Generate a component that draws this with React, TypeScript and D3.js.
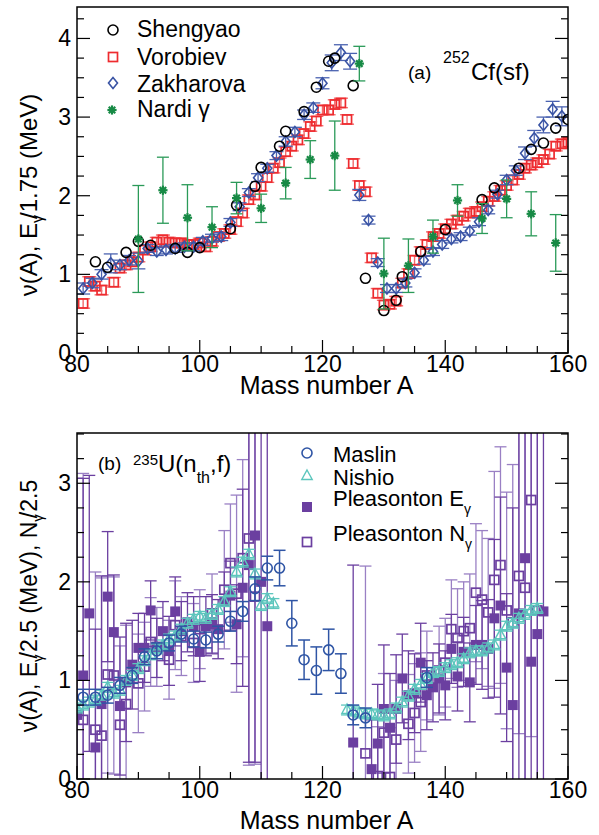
import React from "react";
import * as d3 from "d3";

const W = 599;
const H = 835;
const FONT = "'Liberation Sans', Arial, Helvetica, sans-serif";

// ---------- Panel (a): 252Cf(sf) ----------
const shengyaoA = [83, 85, 88, 90, 92, 96, 98, 100, 105, 106, 109, 110, 113, 114, 117, 119, 121, 122, 125, 127, 130, 132, 133, 136, 140, 146, 148, 152, 154, 156, 158, 160];
const shengyaoV = [1.16, 1.09, 1.28, 1.42, 1.37, 1.33, 1.28, 1.34, 1.58, 1.88, 2.12, 2.36, 2.63, 2.82, 3.07, 3.38, 3.71, 3.75, 3.40, 0.95, 0.54, 0.67, 0.97, 1.29, 1.57, 1.95, 2.10, 2.35, 2.59, 2.67, 2.86, 2.97];

const vorobievA = [81, 82, 83, 84, 86, 87, 88, 89, 90, 91, 92, 93, 94, 95, 96, 97, 98, 99, 100, 101, 102, 103, 104, 105, 106, 107, 108, 109, 110, 111, 112, 113, 114, 115, 116, 117, 118, 119, 120, 121, 122, 123, 124, 125, 126, 127, 128, 129, 130, 131, 132, 133, 134, 135, 136, 137, 138, 139, 140, 141, 142, 143, 144, 145, 146, 147, 148, 149, 150, 151, 152, 153, 154, 155, 156, 157, 158, 159, 160];
const vorobievV = [0.63, 0.91, 0.85, 0.80, 0.90, 1.08, 1.12, 1.16, 1.22, 1.31, 1.35, 1.41, 1.44, 1.41, 1.40, 1.40, 1.38, 1.38, 1.40, 1.35, 1.42, 1.48, 1.52, 1.57, 1.67, 1.78, 1.95, 2.01, 2.12, 2.23, 2.35, 2.42, 2.56, 2.63, 2.71, 2.79, 2.88, 2.95, 3.09, 3.09, 3.16, 3.18, 2.97, 2.41, 2.13, 2.05, 1.21, 0.76, 0.61, 0.62, 0.66, 0.89, 1.01, 1.18, 1.29, 1.38, 1.48, 1.52, 1.58, 1.64, 1.69, 1.74, 1.78, 1.80, 1.86, 1.93, 1.99, 2.07, 2.13, 2.20, 2.27, 2.35, 2.39, 2.42, 2.46, 2.53, 2.63, 2.66, 2.68];

const zakharovaA = [81, 82.5, 84, 85.5, 87, 88.5, 90, 91.5, 93, 94.5, 96, 97.5, 99, 100.5, 102, 103.5, 105, 106.5, 108, 109.5, 111, 112.5, 114, 115.5, 117, 118.5, 120, 121.5, 123, 124.5, 126, 127.5, 129, 130.5, 132, 133.5, 135, 136.5, 138, 139.5, 141, 142.5, 144, 145.5, 147, 148.5, 150, 151.5, 153, 154.5, 156, 157.5, 159];
const zakharovaV = [0.82, 0.89, 1.00, 1.14, 1.12, 1.18, 1.17, 1.33, 1.29, 1.31, 1.33, 1.35, 1.35, 1.42, 1.46, 1.48, 1.66, 1.86, 2.04, 2.23, 2.35, 2.51, 2.69, 2.81, 3.03, 3.12, 3.43, 3.69, 3.82, 3.71, 2.01, 1.69, 1.15, 0.82, 0.82, 0.89, 1.02, 1.18, 1.29, 1.38, 1.45, 1.48, 1.55, 1.67, 1.82, 2.02, 2.20, 2.32, 2.54, 2.73, 2.90, 3.10, 3.01];
const zakharovaE = [0.07, 0.06, 0.06, 0.12, 0.06, 0.06, 0.1, 0.05, 0.05, 0.05, 0.05, 0.05, 0.05, 0.05, 0.05, 0.05, 0.05, 0.05, 0.05, 0.05, 0.05, 0.05, 0.06, 0.06, 0.06, 0.06, 0.07, 0.1, 0.1, 0.1, 0.07, 0.05, 0.05, 0.05, 0.05, 0.05, 0.05, 0.05, 0.05, 0.05, 0.05, 0.05, 0.05, 0.05, 0.05, 0.05, 0.06, 0.06, 0.08, 0.1, 0.1, 0.1, 0.12];

const nardiA = [90, 94, 98, 102, 106, 110, 114, 118, 122, 126, 130, 134, 138, 142, 146, 150, 154, 158];
const nardiV = [1.45, 2.07, 1.72, 1.60, 1.97, 1.84, 2.16, 2.46, 2.51, 3.68, 1.01, 1.11, 1.48, 1.94, 1.71, 1.96, 1.77, 1.40];
const nardiE = [0.68, 0.42, 0.42, 0.26, 0.2, 0.18, 0.2, 0.24, 0.44, 0.22, 0.45, 0.34, 0.21, 0.2, 0.19, 0.24, 0.28, 0.36];

// ---------- Panel (b): 235U(nth,f) ----------
const maslinA = [81, 83, 85, 87, 89, 91, 93, 95, 97, 99, 101, 103, 105, 107, 109, 111, 113, 115, 117, 119, 121, 123, 125, 127, 137];
const maslinV = [0.83, 0.83, 0.85, 0.95, 1.05, 1.24, 1.30, 1.38, 1.47, 1.42, 1.41, 1.47, 1.60, 1.70, 1.93, 2.14, 2.14, 1.58, 1.21, 1.10, 1.31, 1.07, 0.65, 0.62, 1.03];
const maslinE = [0.08, 0.08, 0.08, 0.08, 0.08, 0.08, 0.08, 0.08, 0.08, 0.08, 0.08, 0.08, 0.1, 0.1, 0.12, 0.12, 0.18, 0.23, 0.2, 0.24, 0.21, 0.2, 0.1, 0.1, 0.1];

const nishioA = [80, 81, 82, 83, 84, 85, 86, 87, 88, 89, 90, 91, 92, 93, 94, 95, 96, 97, 98, 99, 100, 101, 102, 103, 104, 105, 106, 107, 108, 109, 110, 111, 112, 124, 125, 126, 127, 128, 129, 130, 131, 132, 133, 134, 135, 136, 137, 138, 139, 140, 141, 142, 143, 144, 145, 146, 147, 148, 149, 150, 151, 152, 153, 154, 155];
const nishioV = [0.72, 0.75, 0.78, 0.80, 0.85, 0.93, 0.87, 0.90, 1.00, 1.05, 1.12, 1.20, 1.26, 1.32, 1.36, 1.42, 1.45, 1.52, 1.58, 1.62, 1.65, 1.63, 1.67, 1.72, 1.80, 1.90, 2.10, 2.20, 2.28, 2.08, 1.76, 1.83, 1.78, 0.70, 0.69, 0.67, 0.66, 0.66, 0.65, 0.64, 0.66, 0.72, 0.78, 0.84, 0.91, 0.96, 1.02, 1.08, 1.09, 1.13, 1.16, 1.18, 1.22, 1.28, 1.30, 1.30, 1.33, 1.36, 1.46, 1.55, 1.58, 1.63, 1.67, 1.71, 1.73];

const pleasEA = [80, 81, 82, 83, 84, 85, 86, 87, 88, 89, 90, 91, 92, 93, 94, 95, 96, 97, 98, 99, 100, 101, 102, 103, 104, 105, 106, 107, 108, 109, 110, 111, 125, 128, 129, 130, 131, 132, 133, 134, 135, 136, 137, 138, 139, 140, 141, 142, 143, 144, 145, 146, 147, 148, 149, 150, 151, 152, 153, 154, 155, 156];
const pleasEV = [0.65, 1.05, 1.68, 0.32, 0.76, 1.85, 1.49, 0.74, 0.98, 1.16, 1.33, 1.33, 1.71, 1.33, 1.50, 1.30, 1.70, 1.50, 1.59, 1.55, 1.29, 1.55, 1.57, 1.52, 1.80, 1.86, 1.57, 1.94, 2.17, 2.47, 2.00, 1.55, 0.37, 0.10, 0.36, 0.71, 0.52, 0.71, 1.02, 0.85, 0.87, 1.18, 0.85, 0.93, 1.02, 0.95, 1.32, 1.04, 1.29, 0.98, 1.36, 1.36, 1.32, 1.63, 1.76, 1.13, 0.75, 1.68, 2.24, 1.19, 1.47, 1.70];
const pleasEE = [2.4, 2.0, 1.4, 1.2, 1.3, 0.66, 0.58, 0.7, 0.6, 0.45, 0.35, 0.35, 0.3, 0.3, 0.3, 0.35, 0.35, 0.3, 0.3, 0.3, 0.3, 0.3, 0.3, 0.3, 0.3, 0.35, 0.4, 1.0, 2.0, 2.3, 2.4, 2.0, 1.8, 0.5, 0.6, 0.65, 0.55, 0.55, 0.45, 0.45, 0.4, 0.4, 0.35, 0.35, 0.35, 0.35, 0.35, 0.35, 0.35, 0.4, 0.4, 0.45, 0.5, 0.8, 1.1, 0.75, 2.0, 2.0, 2.4, 2.4, 2.5, 2.5];

const pleasNA = [81, 83, 84, 85, 86, 87, 88, 90, 91, 92, 93, 95, 96, 97, 99, 100, 102, 104, 105, 106, 107, 108, 109, 127, 129, 130, 131, 132, 134, 135, 136, 137, 139, 140, 141, 142, 143, 144, 145, 146, 147, 148, 149, 150, 151, 152, 153, 154, 155];
const pleasNV = [0.60, 0.50, 0.44, 1.06, 1.05, 0.55, 0.76, 0.97, 1.14, 1.39, 1.34, 1.21, 1.56, 1.45, 1.38, 1.52, 1.68, 1.92, 2.19, 1.88, 2.24, 2.44, 1.85, 0.26, 0.03, 0.47, 0.02, 0.40, 0.56, 0.67, 0.78, 1.05, 1.10, 1.18, 1.52, 1.43, 1.50, 1.53, 1.89, 1.82, 1.69, 2.02, 2.17, 1.71, 1.59, 2.06, 1.94, 2.83, 1.71];
const pleasNE = [2.5, 1.6, 1.6, 1.0, 1.0, 0.8, 0.8, 0.5, 0.45, 0.45, 0.4, 0.4, 0.45, 0.4, 0.4, 0.4, 0.4, 0.6, 0.6, 1.0, 1.0, 2.3, 1.7, 1.9, 0.5, 0.6, 0.5, 0.6, 0.5, 0.5, 0.5, 0.45, 0.45, 0.45, 0.5, 0.5, 0.5, 0.55, 0.7, 0.7, 0.75, 1.1, 1.2, 1.2, 1.6, 1.6, 2.2, 2.4, 2.5];

const xTickLabels = [80, 100, 120, 140, 160];
const yTickLabelsA = [0, 1, 2, 3, 4];
const yTickLabelsB = [0, 1, 2, 3];

// ---------- layout ----------
const X0 = 77, X1 = 568;
const A_TOP = 7, A_BOT = 353;
const B_TOP = 433, B_BOT = 779;

const xS = d3.scaleLinear().domain([80, 160]).range([X0, X1]);
const yAS = d3.scaleLinear().domain([0, 4.4]).range([A_BOT, A_TOP]);
const yBS = d3.scaleLinear().domain([0, 3.51]).range([B_BOT, B_TOP]);

const RED = "#ee2b2f";
const BLUE = "#3953a4";
const GREEN = "#178a45";
const MASLIN = "#2f55a5";
const NISHIO = "#5cc6bd";
const PURPLE = "#6b3fa0";
const PURPLE_L = "#9a80c4";

type Sc = d3.ScaleLinear<number, number>;

function ErrBar({ x, v, e, y, color, cap, sw = 1.3, op = 1 }: { x: number; v: number; e: number; y: Sc; color: string; cap: number; sw?: number; op?: number }) {
  const px = xS(x);
  const y1 = y(v - e), y2 = y(v + e);
  return (
    <g stroke={color} strokeWidth={sw} opacity={op} fill="none">
      <line x1={px} x2={px} y1={y1} y2={y2} />
      <line x1={px - cap} x2={px + cap} y1={y1} y2={y1} />
      <line x1={px - cap} x2={px + cap} y1={y2} y2={y2} />
    </g>
  );
}

function Marker({ kind, cx, cy, color }: { kind: string; cx: number; cy: number; color: string }) {
  switch (kind) {
    case "circle":
      return <circle cx={cx} cy={cy} r={5} fill="none" stroke={color} strokeWidth={1.6} />;
    case "osquare":
      return <rect x={cx - 4.5} y={cy - 4.5} width={9} height={9} fill="none" stroke={color} strokeWidth={1.7} />;
    case "fsquare":
      return <rect x={cx - 5} y={cy - 5} width={10} height={10} fill={color} />;
    case "diamond":
      return <path d={`M${cx},${cy - 5.5}L${cx + 4.5},${cy}L${cx},${cy + 5.5}L${cx - 4.5},${cy}Z`} fill="none" stroke={color} strokeWidth={1.6} />;
    case "triangle":
      return <path d={`M${cx},${cy - 6}L${cx + 5.2},${cy + 3.5}L${cx - 5.2},${cy + 3.5}Z`} fill="none" stroke={color} strokeWidth={1.4} />;
    case "star": {
      const r = 4.6;
      const angs = [0, 45, 90, 135];
      return (
        <g stroke={color} strokeWidth={2.2} fill={color}>
          {angs.map((a) => {
            const t = (a * Math.PI) / 180;
            return <line key={a} x1={cx - r * Math.cos(t)} y1={cy - r * Math.sin(t)} x2={cx + r * Math.cos(t)} y2={cy + r * Math.sin(t)} />;
          })}
          <circle cx={cx} cy={cy} r={2.6} stroke="none" />
        </g>
      );
    }
  }
  return null;
}

function Series({ xs, vs, es, y, kind, color, ecolor, cap, esw, eop }: { xs: number[]; vs: number[]; es?: number[]; y: Sc; kind: string; color: string; ecolor?: string; cap?: number; esw?: number; eop?: number }) {
  return (
    <g>
      {es && xs.map((x, i) => <ErrBar key={"e" + i} x={x} v={vs[i]} e={es[i]} y={y} color={ecolor || color} cap={cap ?? 5} sw={esw} op={eop} />)}
      {xs.map((x, i) => <Marker key={"m" + i} kind={kind} cx={xS(x)} cy={y(vs[i])} color={color} />)}
    </g>
  );
}

function Axes({ y, top, bot, yMax, yLabels, titleDy }: { y: Sc; top: number; bot: number; yMax: number; yLabels: number[]; titleDy: number }) {
  const xt = d3.range(80, 160.001, 5);
  const yt = d3.range(0, yMax + 0.001, 0.25);
  return (
    <g>
      <rect x={X0} y={top} width={X1 - X0} height={bot - top} fill="none" stroke="#000" strokeWidth={1.5} />
      {xt.map((t) => {
        const major = t % 20 === 0;
        return <line key={"x" + t} x1={xS(t)} x2={xS(t)} y1={bot} y2={bot - (major ? 13 : 7)} stroke="#000" strokeWidth={1.2} />;
      })}
      {yt.map((t) => {
        const major = Math.abs(t - Math.round(t)) < 1e-6;
        const len = major ? 13 : 7;
        return (
          <g key={"y" + t} stroke="#000" strokeWidth={1.2}>
            <line x1={X0} x2={X0 + len} y1={y(t)} y2={y(t)} />
            <line x1={X1} x2={X1 - len} y1={y(t)} y2={y(t)} />
          </g>
        );
      })}
      {xTickLabels.map((t) => (
        <text key={"xl" + t} x={xS(t)} y={bot + 19} textAnchor="middle" fontSize={23} fontFamily={FONT}>{t}</text>
      ))}
      {yLabels.map((t) => (
        <text key={"yl" + t} x={X0 - 6} y={y(t) + 8} textAnchor="end" fontSize={23} fontFamily={FONT}>{t}</text>
      ))}
      <text x={(X0 + X1) / 2 + 4} y={bot + titleDy} textAnchor="middle" fontSize={25} fontFamily={FONT}>Mass number A</text>
    </g>
  );
}

export default function App() {
  return (
    <svg width={W} height={H} viewBox={`0 0 ${W} ${H}`} style={{ position: "absolute", left: 0, top: 0, background: "#fff" }}>
      <defs>
        <clipPath id="clipA"><rect x={X0} y={A_TOP} width={X1 - X0} height={A_BOT - A_TOP} /></clipPath>
        <clipPath id="clipB"><rect x={X0} y={B_TOP} width={X1 - X0} height={B_BOT - B_TOP} /></clipPath>
      </defs>
      <rect x={0} y={0} width={W} height={H} fill="#fff" />

      {/* Panel (a) */}
      <g clipPath="url(#clipA)">
        <Series xs={vorobievA} vs={vorobievV} es={vorobievA.map(() => 0.06)} y={yAS} kind="osquare" color={RED} ecolor="#f26a6c" cap={7} esw={1.4} />
        <Series xs={zakharovaA} vs={zakharovaV} es={zakharovaE} y={yAS} kind="diamond" color={BLUE} ecolor="#4a62b0" cap={7} esw={1.3} />
        <Series xs={shengyaoA} vs={shengyaoV} y={yAS} kind="circle" color="#000" />
        <Series xs={nardiA} vs={nardiV} es={nardiE} y={yAS} kind="star" color={GREEN} ecolor="#2a9a58" cap={6} esw={1.3} />
      </g>
      <Axes y={yAS} top={A_TOP} bot={A_BOT} yMax={4.4} yLabels={yTickLabelsA} titleDy={41} />

      {/* legend (a) */}
      <g fontFamily={FONT} fontSize={23}>
        <Marker kind="circle" cx={113} cy={30} color="#000" />
        <text x={137} y={37}>Shengyao</text>
        <Marker kind="osquare" cx={113} cy={57} color={RED} />
        <text x={137} y={65}>Vorobiev</text>
        <Marker kind="diamond" cx={113} cy={83} color={BLUE} />
        <text x={137} y={92}>Zakharova</text>
        <Marker kind="star" cx={112} cy={110} color={GREEN} />
        <text x={137} y={117}>Nardi γ</text>
      </g>
      <g fontFamily={FONT}>
        <text x={408} y={79} fontSize={19}>(a)</text>
        <text x={443} y={63} fontSize={16}>252</text>
        <text x={471} y={80} fontSize={24}>Cf(sf)</text>
      </g>

      {/* y title (a) */}
      <text transform="translate(37,195) rotate(-90)" textAnchor="middle" fontFamily={FONT} fontSize={24}>
        ν(A),   E<tspan fontSize={16} dy={6}>γ</tspan><tspan dy={-6} dx={-4}>/1.75 (MeV)</tspan>
      </text>

      {/* Panel (b) */}
      <g clipPath="url(#clipB)">
        <Series xs={pleasNA} vs={pleasNV} es={pleasNE} y={yBS} kind="osquare" color={PURPLE} ecolor={PURPLE_L} cap={6} esw={1.3} />
        <Series xs={pleasEA} vs={pleasEV} es={pleasEE} y={yBS} kind="fsquare" color={PURPLE} ecolor={PURPLE} cap={6} esw={1.3} />
        <Series xs={nishioA} vs={nishioV} es={nishioA.map(() => 0.05)} y={yBS} kind="triangle" color={NISHIO} ecolor={NISHIO} cap={6} esw={1.3} />
        <Series xs={maslinA} vs={maslinV} es={maslinE} y={yBS} kind="circle" color={MASLIN} ecolor={MASLIN} cap={6} esw={1.5} />
      </g>
      <Axes y={yBS} top={B_TOP} bot={B_BOT} yMax={3.51} yLabels={yTickLabelsB} titleDy={50} />

      {/* legend (b) */}
      <g fontFamily={FONT} fontSize={22}>
        <Marker kind="circle" cx={307} cy={453} color={MASLIN} />
        <text x={333} y={462}>Maslin</text>
        <Marker kind="triangle" cx={307} cy={476} color={NISHIO} />
        <text x={333} y={485}>Nishio</text>
        <Marker kind="fsquare" cx={307} cy={507} color={PURPLE} />
        <text x={333} y={506}>Pleasonton E<tspan fontSize={14} dy={8}>γ</tspan></text>
        <Marker kind="osquare" cx={307} cy={542} color={PURPLE} />
        <text x={333} y={541}>Pleasonton N<tspan fontSize={14} dy={8}>γ</tspan></text>
      </g>
      <g fontFamily={FONT}>
        <text x={98} y={470} fontSize={19}>(b)</text>
        <text x={133} y={465} fontSize={15}>235</text>
        <text x={158} y={472} fontSize={24}>U(n<tspan fontSize={16} dy={11}>th</tspan><tspan dy={-11}>,f)</tspan></text>
      </g>

      {/* y title (b) */}
      <text transform="translate(37,606) rotate(-90)" textAnchor="middle" fontFamily={FONT} fontSize={23}>
        ν(A),   E<tspan fontSize={15} dy={6}>γ</tspan><tspan dy={-6} dx={-4}>/2.5 (MeV),   N</tspan><tspan fontSize={15} dy={6}>γ</tspan><tspan dy={-6} dx={-4}>/2.5</tspan>
      </text>
    </svg>
  );
}
